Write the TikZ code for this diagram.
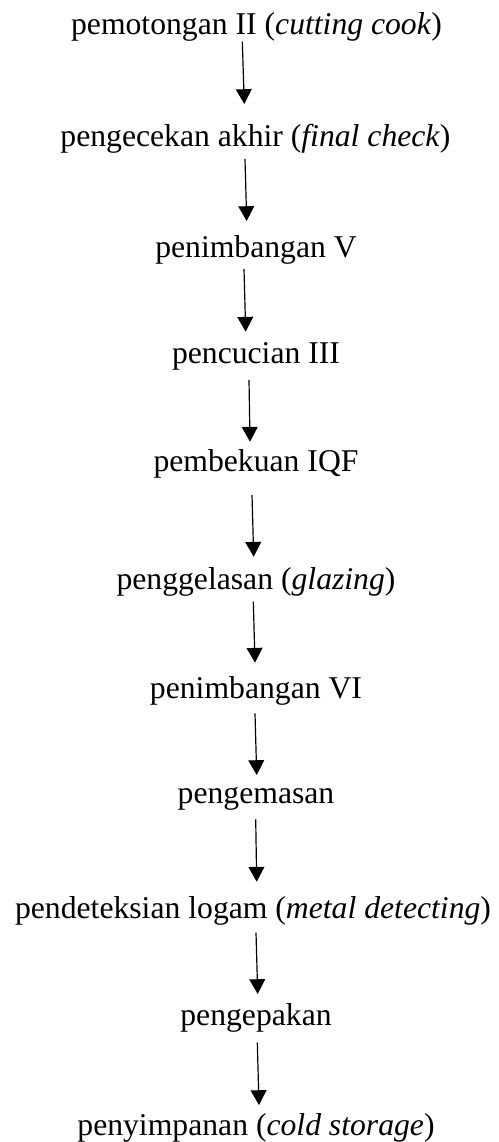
\documentclass[tikz,border=0pt]{standalone}
\usepackage{fontspec}
\setmainfont{Liberation Serif}
\usetikzlibrary{arrows.meta}
\begin{document}
\begin{tikzpicture}[x=0.3788pt,y=-0.3788pt,
  lbl/.style={anchor=base,inner sep=0pt,font=\fontsize{12}{14}\selectfont},
  arr/.style={line width=0.45pt,-{Triangle[length=5.6pt,width=6pt]}}]
\useasboundingbox (0,0) rectangle (499,1142);
\node[lbl] (t1) at (256.5,34.5) {pemotongan II (\textit{cutting cook})};
\node[lbl] (t2) at (255.5,146.7) {pengecekan akhir (\textit{final check})};
\node[lbl] (t3) at (256,257.3) {penimbangan V};
\node[lbl] (t4) at (256,363.3) {pencucian III};
\node[lbl] (t5) at (256,471.7) {pembekuan IQF};
\node[lbl] (t6) at (256,589) {penggelasan (\textit{glazing})};
\node[lbl] (t7) at (256,698.3) {penimbangan VI};
\node[lbl] (t8) at (256,803.3) {pengemasan};
\node[lbl] (t9) at (253,918.3) {pendeteksian logam (\textit{metal detecting})};
\node[lbl] (t10) at (256,1025) {pengepakan};
\node[lbl] (t11) at (256,1135) {penyimpanan (\textit{cold storage})};
\coordinate (s1) at (242.3,41.7);  \coordinate (e1) at (244.3,104);
\coordinate (s2) at (245,159);     \coordinate (e2) at (246.7,221);
\coordinate (s3) at (244,269);     \coordinate (e3) at (245.7,331.7);
\coordinate (s4) at (249,380);     \coordinate (e4) at (250,441.7);
\coordinate (s5) at (252,495);     \coordinate (e5) at (253.7,556.7);
\coordinate (s6) at (253.3,601.7); \coordinate (e6) at (255,662.7);
\coordinate (s7) at (255,713.3);   \coordinate (e7) at (256.7,775);
\coordinate (s8) at (255.7,819.3); \coordinate (e8) at (256.7,881.7);
\coordinate (s9) at (256,932.7);   \coordinate (e9) at (257.7,994);
\coordinate (s10) at (257.3,1042.7); \coordinate (e10) at (259,1105);
\foreach \i in {1,...,10} {\draw[arr] (s\i) -- (e\i);}
\end{tikzpicture}
\end{document}
